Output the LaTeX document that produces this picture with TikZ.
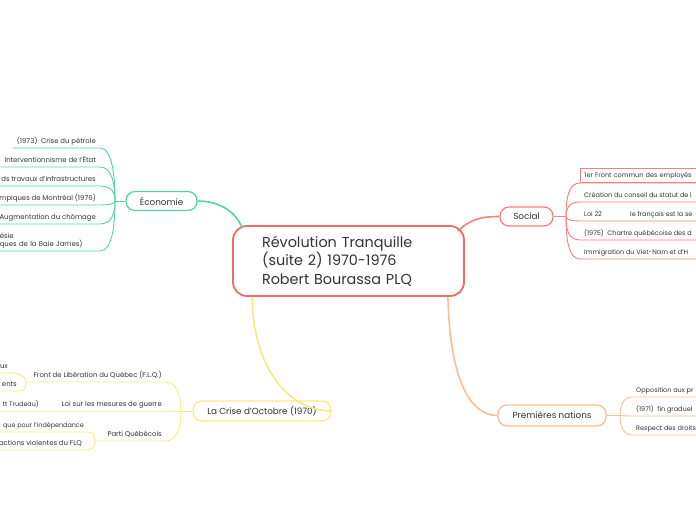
\documentclass[tikz,border=0pt]{standalone}
\usepackage{fontspec}
\setmainfont{Poppins}
\usepackage{xcolor}
\usetikzlibrary{positioning}

\definecolor{mainred}{RGB}{242,106,98}
\definecolor{socred}{RGB}{247,128,120}
\definecolor{ecogreen}{RGB}{78,214,164}
\definecolor{pnorange}{RGB}{255,188,145}
\definecolor{criseyellow}{RGB}{248,234,130}
\definecolor{txt}{RGB}{51,51,51}

\begin{document}
\begin{tikzpicture}[
x=1pt, y=-1pt,
font=\fontsize{6.9}{8}\selectfont, text=txt,
central/.style = {draw=mainred, line width=1.8pt, rounded corners=14pt,
                  fill=white, text width=173pt, align=left, inner xsep=29pt,
                  minimum height=70pt, font=\fontsize{14.4}{18.5}\selectfont},
branch/.style = {draw, line width=1.2pt, rounded corners=9pt, fill=white,
                 minimum height=19pt, inner sep=0pt,
                 font=\fontsize{8.8}{10}\selectfont},
leaf/.style = {inner xsep=4pt, inner ysep=3pt, text height=5pt, text depth=1.5pt},
rleaf/.style = {leaf, anchor=south west, font=\fontsize{6.5}{8}\selectfont},
lleaf/.style = {leaf, anchor=south east, font=\fontsize{6.4}{8}\selectfont},
link/.style = {line width=1.6pt},
twig/.style = {line width=0.9pt},
                        ]
\useasboundingbox (0,0) rectangle (696,520);

% main topic and branches
\node (c) [central] at (348.5,261) {Révolution Tranquille\\(suite 2) 1970-1976\\Robert Bourassa PLQ};
\node (eco) [branch, draw=ecogreen, minimum width=71pt] at (161.5,201) {Économie};
\node (soc) [branch, draw=socred, minimum width=53pt] at (526.5,216.5) {Social};
\node (pn) [branch, draw=pnorange, minimum width=108pt, minimum height=21pt] at (552,415.5) {Premières nations};
\node (cr) [branch, draw=criseyellow, minimum width=138pt, minimum height=20pt] at (262,411) {La Crise d'Octobre (1970)};

\draw[link, ecogreen] (eco.east) .. controls (222,201) and (237,214) .. ([xshift=10pt,yshift=-3pt]c.north west);
\draw[link, socred] ([xshift=-7pt,yshift=-6pt]c.north east) .. controls (470,219) and (482,216.5) .. (soc.west);
\draw[link, pnorange] ([xshift=-17pt]c.south east) .. controls (450,380) and (470,415.5) .. (pn.west);
\draw[link, criseyellow] ([xshift=20pt]c.south west) .. controls (253,370) and (290,411) .. (cr.east);

% Economie
\coordinate (eco-j) at (115,201);
\draw[twig, ecogreen] (eco-j) -- (eco.west);
\node (e1) [leaf, anchor=south east] at (100,148) {(1973)~~Crise du pétrole};
\node (e2) [leaf, anchor=south east] at (100,167) {Interventionnisme de l'État};
\node (e3) [leaf, anchor=south east] at (100,186) {ds travaux d'infrastructures};
\node (e4) [leaf, anchor=south east] at (100,205) {mpiques de Montréal (1976)};
\node (e5) [leaf, anchor=south east] at (100,224) {Augmentation du chômage};
\node (e6) [inner xsep=4pt, inner ysep=3pt, text width=96pt, align=left, anchor=south east] at (100,251) {ésie\\ques de la Baie James)};
\foreach \n/\d in {e1/-26, e2/-17, e3/-8, e4/2, e5/12, e6/25}
  \draw[twig, ecogreen] (\n.south west) -- (\n.south east) .. controls +(12,0) and +(0,\d) .. (eco-j);

% Social
\coordinate (soc-j) at (566,216.5);
\draw[twig, socred] (soc.east) -- (soc-j);
\node (s1) [rleaf, draw=socred, line width=0.9pt, minimum height=14pt, minimum width=140pt, align=left, text width=132pt] at (580,183) {1er Front commun des employés};
\node (s2) [rleaf] at (580,202) {Création du conseil du statut de l};
\node (s3) [rleaf] at (580,221) {Loi 22};
\node (s3b) [rleaf] at (626,221) {le français est la se};
\node (s4) [rleaf] at (580,240) {(1975)~~Chartre québécoise des d};
\node (s5) [rleaf] at (580,259) {Immigration du Viet-Nam et d'H};
\foreach \n/\d in {s1/-17, s2/-7, s3/2, s4/12, s5/21}
  \draw[twig, socred] (soc-j) .. controls +(0,\d) and +(-12,0) .. (\n.south west) -- ++(130,0);

% Premieres nations
\coordinate (pn-j) at (620,415.5);
\draw[twig, pnorange] (pn.east) -- (pn-j);
\node (p1) [rleaf] at (632,397) {Opposition aux pr};
\node (p2) [rleaf] at (632,416) {(1971)~~fin graduel};
\node (p3) [rleaf] at (632,435) {Respect des droits};
\foreach \n/\d in {p1/-9, p2/0, p3/10}
  \draw[twig, pnorange] (pn-j) .. controls +(0,\d) and +(-9,0) .. (\n.south west) -- ++(80,0);

% Crise d'Octobre
\coordinate (cr-j) at (181,411);
\coordinate (c1-j) at (26,382);
\coordinate (c3-j) at (95,441);
\draw[twig, criseyellow] (cr-j) -- (cr.west);
\node (c1) [leaf, anchor=south east] at (166,382) {Front de Libération du Québec (F.L.Q.)};
\node (c1a) [leaf, anchor=south east] at (12,373) {ux};
\node (c1b) [leaf, anchor=south east] at (21,391) {ents};
\node (c2) [leaf, anchor=south east] at (166,411) {Loi sur les mesures de guerre};
\node (c2a) [lleaf] at (43,411) {tt Trudeau)};
\node (c3) [leaf, anchor=south east] at (166,441) {Parti Québécois};
\node (c3a) [lleaf] at (88,432) {que pour l'indépendance};
\node (c3b) [leaf, anchor=south east] at (86,450) {actions violentes du FLQ};
\draw[twig, criseyellow] (c1-j) -- (c1.south east) .. controls +(11,0) and +(0,-14) .. (cr-j);
\draw[twig, criseyellow] (c2a.south west) -- (c2.south east) -- (cr-j);
\draw[twig, criseyellow] (c3-j) -- (c3.south east) .. controls +(11,0) and +(0,15) .. (cr-j);
\draw[twig, criseyellow] (c1a.south west) -- (c1a.south east) .. controls +(8,0) and +(0,-5) .. (c1-j);
\draw[twig, criseyellow] (c1b.south west) -- (c1b.south east) .. controls +(4,0) and +(0,5) .. (c1-j);
\draw[twig, criseyellow] (c3a.south west) -- (c3a.south east) .. controls +(5,0) and +(0,-5) .. (c3-j);
\draw[twig, criseyellow] (c3b.south west) -- (c3b.south east) .. controls +(7,0) and +(0,5) .. (c3-j);
\end{tikzpicture}
\end{document}
